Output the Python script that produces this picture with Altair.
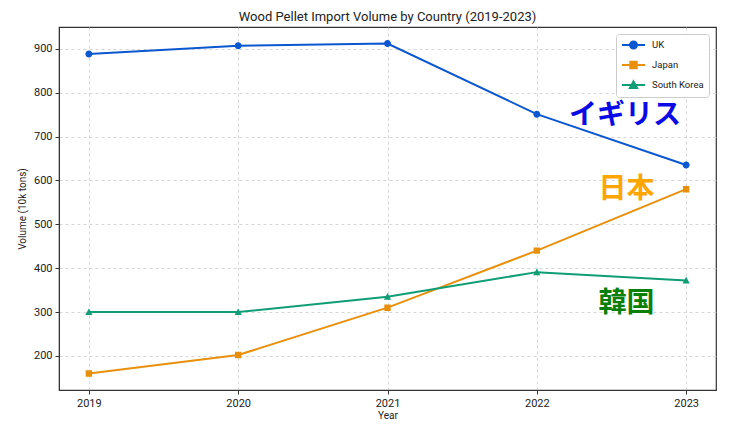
import altair as alt
import pandas as pd

years = [2019, 2020, 2021, 2022, 2023]
countries = ["UK", "Japan", "South Korea"]
uk = [888, 907, 912, 751, 635]
japan = [160, 202, 310, 440, 580]
korea = [300, 300, 335, 391, 372]
line_colors = ["#0b57d0", "#e8900c", "#0f9d76"]

ann_text = ["イギリス", "日本", "韓国"]
ann_year = [2022.59, 2022.6, 2022.6]
ann_value = [747, 579, 318]
ann_colors = ["#0a0ae6", "#ffa500", "#0a800a"]

rows = []
for c, vals in zip(countries, [uk, japan, korea]):
    for y, v in zip(years, vals):
        rows.append({"year": y, "volume": v, "country": c})
df = pd.DataFrame(rows)
ann = pd.DataFrame({"label": ann_text, "year": ann_year, "volume": ann_value, "country": countries})

# legend symbols: short line + marker (line part has no area, so invisible on plot when stroke width is 0)
circle = "M-2.3,0H2.3M0.7,0A0.7,0.7,0,1,1,-0.7,0A0.7,0.7,0,1,1,0.7,0Z"
square = "M-2.3,0H2.3M-0.64,-0.64H0.64V0.64H-0.64Z"
tri = "M-2.3,0H2.3M0,-0.72L0.72,0.6H-0.72Z"

xs = alt.Scale(domain=[2018.8, 2023.2], nice=False, zero=False)
ys = alt.Scale(domain=[122.4, 949.6], nice=False, zero=False)
cs = alt.Scale(domain=countries, range=line_colors)

x = alt.X("year:Q", scale=xs, title="Year",
          axis=alt.Axis(values=years, format="d"))
y = alt.Y("volume:Q", scale=ys, title="Volume (10k tons)",
          axis=alt.Axis(values=[200, 300, 400, 500, 600, 700, 800, 900]))

lines = alt.Chart(df).mark_line(strokeWidth=2).encode(
    x=x, y=y,
    color=alt.Color("country:N", scale=cs, legend=None),
    detail="country:N",
)

legend = alt.Legend(title=None, orient="top-right", offset=7, padding=5,
                    strokeColor="#cccccc", fillColor="white", cornerRadius=3,
                    symbolSize=100, symbolStrokeWidth=2, symbolOffset=6.5,
                    labelFontSize=9.5, labelFont="Roboto", labelColor="#222",
                    rowPadding=4, labelOffset=12.5)

points = alt.Chart(df).mark_point(filled=True, size=100, strokeWidth=0, opacity=1).encode(
    x=x, y=y,
    fill=alt.Fill("country:N", scale=cs, legend=legend),
    stroke=alt.Stroke("country:N", scale=cs, legend=legend),
    shape=alt.Shape("country:N", scale=alt.Scale(domain=countries, range=[circle, square, tri]), legend=legend),
)

texts = alt.Chart(ann).mark_text(font="Noto Sans CJK JP", fontSize=28, fontWeight="bold").encode(
    x="year:Q", y="volume:Q", text="label:N",
    color=alt.Color("label:N", scale=alt.Scale(domain=ann_text, range=ann_colors), legend=None),
)

chart = alt.layer(lines, points, texts).resolve_scale(color="independent").properties(
    width=657, height=363,
    autosize=alt.AutoSizeParams(type="none"),
    padding={"left": 51, "top": 19, "right": 6, "bottom": 40},
    title=alt.Title("Wood Pellet Import Volume by Country (2019-2023)",
                    fontSize=13, font="Roboto", fontWeight="normal", color="#222", offset=3),
).configure_view(stroke="#333333", strokeWidth=1.2).configure_axis(
    labelFont="Roboto", labelFontSize=11, labelColor="#222",
    titleFont="Roboto", titleFontSize=10, titleFontWeight="normal", titleColor="#222",
    grid=True, gridColor="#cccccc", gridDash=[3, 3], gridWidth=0.8,
    domainColor="#333333", tickColor="#333333", tickSize=4, labelPadding=3,
).configure_axisY(titlePadding=6).configure_axisX(titlePadding=2)

chart.save("out.html", embed_options={"renderer": "svg", "actions": False})
